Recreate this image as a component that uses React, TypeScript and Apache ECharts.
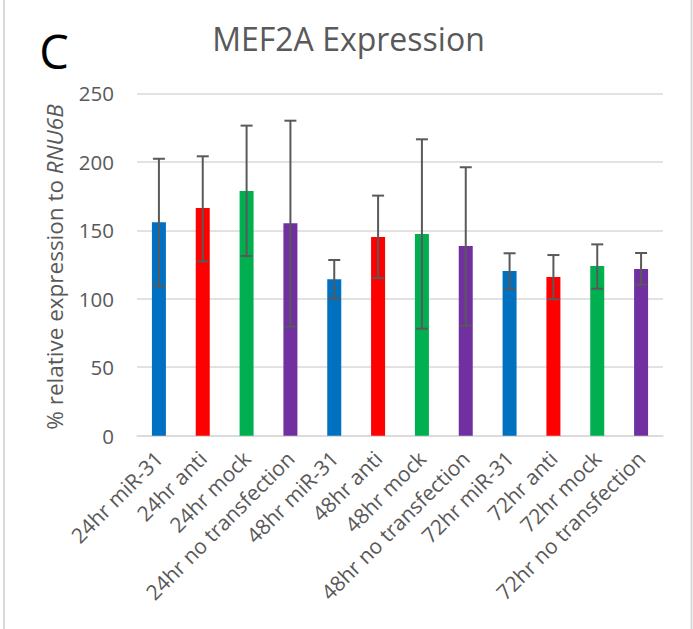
import React, { useEffect, useRef } from "react";
import * as echarts from "echarts";

const categories = [
  "24hr miR-31",
  "24hr anti",
  "24hr mock",
  "24hr no transfection",
  "48hr miR-31",
  "48hr anti",
  "48hr mock",
  "48hr no transfection",
  "72hr miR-31",
  "72hr anti",
  "72hr mock",
  "72hr no transfection",
];
const means = [155.8, 166.3, 178.7, 155.1, 114.2, 145.1, 147.3, 138.5, 120.3, 115.9, 123.9, 121.7];
const errUpper = [202.2, 204.0, 226.4, 230.0, 128.3, 175.3, 216.4, 196.0, 133.2, 131.9, 139.7, 133.4];
const errLower = [109.1, 127.3, 131.2, 79.6, 100.0, 115.1, 78.1, 80.3, 107.3, 99.6, 107.3, 110.3];
const barColors = ["#0070C0", "#FF0000", "#00B050", "#7030A0"];
const yTicks = [0, 50, 100, 150, 200, 250];

const FONT = "Open Sans";
const GREY = "#595959";

export default function App() {
  const ref = useRef<HTMLDivElement>(null);
  useEffect(() => {
    if (!ref.current) return;
    const chart = echarts.init(ref.current, undefined, { renderer: "svg" });
    const option: any = {
      animation: false,
      backgroundColor: "#ffffff",
      grid: { left: 137, right: 30, top: 93.3, bottom: 193.3, containLabel: false },
      xAxis: {
        type: "category",
        data: categories,
        axisLine: { show: true, lineStyle: { color: "#d9d9d9", width: 1.5 } },
        axisTick: { show: false },
        axisLabel: {
          interval: 0,
          rotate: 45,
          fontFamily: FONT,
          fontSize: 21,
          color: GREY,
          margin: 19,
        },
      },
      yAxis: {
        type: "value",
        min: yTicks[0],
        max: yTicks[yTicks.length - 1],
        interval: 50,
        axisLine: { show: false },
        axisTick: { show: false },
        splitLine: { lineStyle: { color: "#d9d9d9", width: 1.5 } },
        axisLabel: { fontFamily: FONT, fontSize: 20.5, color: GREY, margin: 23 },
      },
      graphic: [
        { type: "line", shape: { x1: 4, y1: 0, x2: 4, y2: 629 }, style: { stroke: "#d9d9d9", lineWidth: 2 } },
        { type: "line", shape: { x1: 691.5, y1: 0, x2: 691.5, y2: 629 }, style: { stroke: "#d9d9d9", lineWidth: 2 } },
        {
          type: "text",
          x: 348.5,
          y: 38,
          style: {
            text: "MEF2A Expression",
            fontFamily: FONT,
            fontSize: 32,
            fill: GREY,
            align: "center",
            verticalAlign: "middle",
          },
        },
        {
          type: "text",
          x: 54,
          y: 51,
          style: {
            text: "C",
            fontFamily: FONT,
            fontSize: 47,
            fill: "#000000",
            align: "center",
            verticalAlign: "middle",
          },
        },
        {
          type: "text",
          x: 54,
          y: 267,
          rotation: Math.PI / 2,
          style: {
            text: "% relative expression to {it|RNU6B}",
            fontFamily: FONT,
            fontSize: 22.5,
            fill: GREY,
            align: "center",
            verticalAlign: "middle",
            rich: {
              it: { fontFamily: FONT, fontSize: 22.5, fontStyle: "italic", fill: GREY },
            },
          },
        },
      ],
      series: [
        {
          type: "bar",
          barWidth: 14,
          data: means.map((v, i) => ({ value: v, itemStyle: { color: barColors[i % 4] } })),
        },
        {
          type: "custom",
          data: means.map((_, i) => [i, errLower[i], errUpper[i]]),
          z: 10,
          renderItem: (params: any, api: any) => {
            const i = api.value(0);
            const lo = api.coord([i, api.value(1)]);
            const hi = api.coord([i, api.value(2)]);
            const hw = 6;
            const style = { stroke: GREY, lineWidth: 2 };
            return {
              type: "group",
              children: [
                { type: "line", shape: { x1: hi[0], y1: hi[1], x2: lo[0], y2: lo[1] }, style },
                { type: "line", shape: { x1: hi[0] - hw, y1: hi[1], x2: hi[0] + hw, y2: hi[1] }, style },
                { type: "line", shape: { x1: lo[0] - hw, y1: lo[1], x2: lo[0] + hw, y2: lo[1] }, style },
              ],
            };
          },
        },
      ],
    };
    chart.setOption(option);
    return () => chart.dispose();
  }, []);
  return (
    <div
      ref={ref}
      style={{ position: "absolute", left: 0, top: 0, width: 693, height: 629 }}
    />
  );
}
